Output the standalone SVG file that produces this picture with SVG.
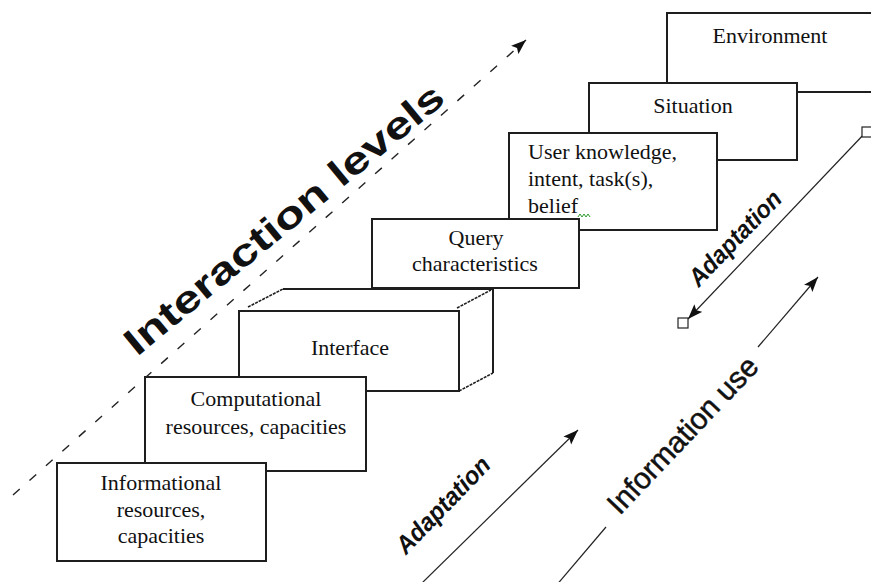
<svg xmlns="http://www.w3.org/2000/svg" width="871" height="582" viewBox="0 0 871 582">
  <style>
    .box { fill: #ffffff; stroke: #1e1e1e; stroke-width: 2; }
    .edge { fill: none; stroke: #1e1e1e; stroke-width: 2; }
    .depth { fill: none; stroke: #1e1e1e; stroke-width: 1.6; stroke-dasharray: 3 1; }
    .lbl { font-family: "Liberation Serif", "Times New Roman", serif; font-size: 22px; fill: #111111; }
    .mid { text-anchor: middle; }
    .axis { fill: none; stroke: #222222; stroke-width: 1.2; }
    .dash { stroke-dasharray: 9 13; stroke-width: 1.4; }
    .big { font-family: "Liberation Sans", Arial, sans-serif; font-weight: bold; font-size: 38px; fill: #111111; }
    .use { font-family: "Liberation Sans", Arial, sans-serif; font-size: 30px; fill: #111111; stroke: #111111; stroke-width: 0.5; }
    .adapt { font-family: "Liberation Sans", Arial, sans-serif; font-weight: bold; font-style: italic; font-size: 25px; fill: #111111; }
    .handle { fill: #ffffff; stroke: #222222; stroke-width: 1.2; }
  </style>
  <defs>
    <marker id="head" markerUnits="userSpaceOnUse" markerWidth="16" markerHeight="12" refX="15" refY="5.5" orient="auto">
      <path d="M0,0 L15,5.5 L0,11 L3,5.5 z" fill="#111111"/>
    </marker>
  </defs>

  <rect width="871" height="582" fill="#ffffff"/>

  <!-- stacked levels, back to front -->
  <g id="environment">
    <rect class="box" x="667" y="13" width="220" height="79"/>
    <text class="lbl mid" x="770" y="43">Environment</text>
  </g>

  <g id="situation">
    <rect class="box" x="589" y="83" width="208" height="77"/>
    <text class="lbl mid" x="693" y="113">Situation</text>
  </g>

  <g id="user">
    <rect class="box" x="509" y="133" width="208" height="97"/>
    <text class="lbl" x="528" y="159">User knowledge,</text>
    <text class="lbl" x="528" y="186">intent, task(s),</text>
    <text class="lbl" x="528" y="213">belief</text>
    <polyline points="578,217 580,214 582,217 584,214 586,217 588,214 590,217" fill="none" stroke="#2e9a2e" stroke-width="1"/>
  </g>

  <g id="query">
    <rect class="box" x="372" y="219" width="207" height="69"/>
    <text class="lbl mid" x="476" y="245">Query</text>
    <text class="lbl mid" x="475" y="271">characteristics</text>
  </g>

  <g id="interface">
    <polygon points="283,289 493,289 493,373 459,391 239,391 239,311" fill="#ffffff" stroke="none"/>
    <line class="edge" x1="283" y1="289" x2="493" y2="289"/>
    <line class="edge" x1="493" y1="289" x2="493" y2="373"/>
    <line class="depth" x1="248" y1="307" x2="283" y2="289"/>
    <line class="depth" x1="457" y1="308" x2="491" y2="290"/>
    <line class="depth" x1="459" y1="391" x2="493" y2="373"/>
    <rect class="box" x="239" y="311" width="220" height="80"/>
    <text class="lbl mid" x="350" y="355">Interface</text>
  </g>

  <g id="computational">
    <rect class="box" x="145" y="377" width="221" height="94"/>
    <text class="lbl mid" x="256" y="406">Computational</text>
    <text class="lbl mid" x="256" y="434">resources, capacities</text>
  </g>

  <g id="informational">
    <rect class="box" x="57" y="463" width="209" height="98"/>
    <text class="lbl mid" x="161" y="490">Informational</text>
    <text class="lbl mid" x="161" y="517">resources,</text>
    <text class="lbl mid" x="161" y="543">capacities</text>
  </g>

  <!-- axes -->
  <g id="connectors">
    <line class="axis dash" x1="13" y1="495" x2="526" y2="40" marker-end="url(#head)"/>
    <line class="axis" x1="421" y1="584" x2="578" y2="430" marker-end="url(#head)"/>
    <line class="axis" x1="555" y1="587" x2="606" y2="527"/>
    <line class="axis" x1="758" y1="347" x2="818" y2="277" marker-end="url(#head)"/>
    <line class="axis" x1="866" y1="132" x2="688" y2="319" marker-end="url(#head)"/>
    <rect class="handle" x="862" y="127" width="10" height="10"/>
    <rect class="handle" x="678" y="318" width="10" height="10"/>
  </g>

  <!-- axis captions -->
  <text class="big" transform="translate(137,357) rotate(-39.5)" x="0" y="0" textLength="402" lengthAdjust="spacingAndGlyphs">Interaction levels</text>
  <text class="use mid" transform="translate(690,442) rotate(-46.5)" x="0" y="0" textLength="204" lengthAdjust="spacingAndGlyphs">Information use</text>
  <text class="adapt mid" transform="translate(449,511) rotate(-46)" x="0" y="0" textLength="124" lengthAdjust="spacingAndGlyphs">Adaptation</text>
  <text class="adapt mid" transform="translate(741,244) rotate(-46)" x="0" y="0" textLength="122" lengthAdjust="spacingAndGlyphs">Adaptation</text>
</svg>
